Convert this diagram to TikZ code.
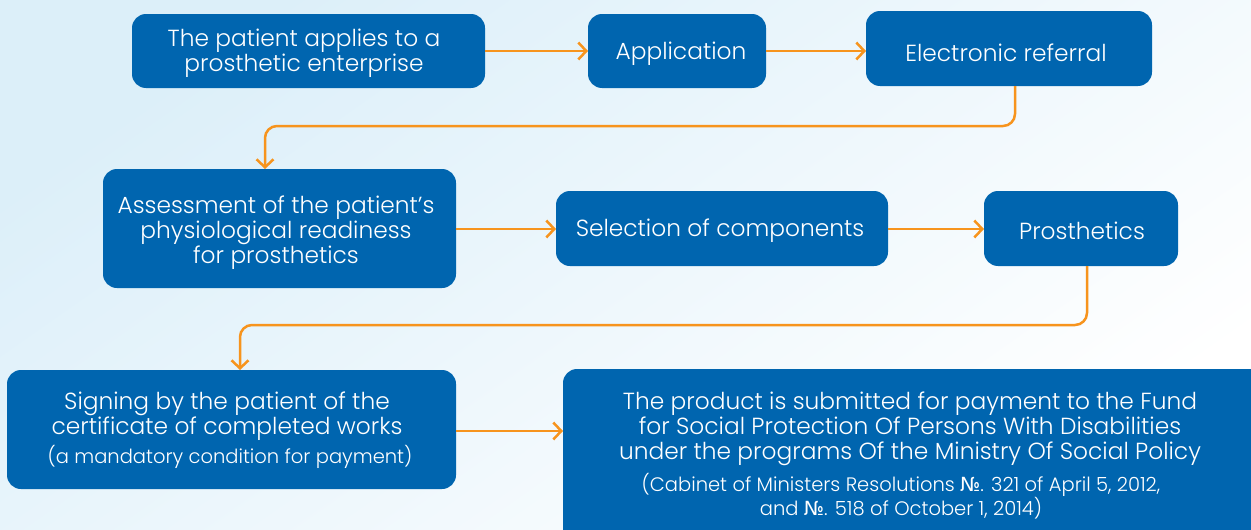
\documentclass[tikz,border=0pt]{standalone}
\usepackage{fontspec}
\setmainfont{Poppins Light}
\newfontfamily\numfont{DejaVu Sans}
\newcommand{\No}{{\numfont\char"2116}}
\usetikzlibrary{arrows.meta}
\definecolor{boxblue}{HTML}{0065AF}
\definecolor{arrorange}{HTML}{F7941D}
\definecolor{bgblue}{HTML}{DCEFF9}
\tikzset{
  stepbox/.style={draw=none, fill=boxblue, rounded corners=14pt},
  big/.style={text=white, align=center, font=\fontsize{23.3}{25}\selectfont},
  small/.style={text=white, align=center, font=\fontsize{19.5}{23}\selectfont},
  flow/.style={draw=arrorange, line width=2.5pt, rounded corners=12pt, -{Straight Barb[length=8pt,width=17pt,line width=2.5pt]}}
}
\begin{document}
\begin{tikzpicture}[x=1pt,y=-1pt]
\useasboundingbox (0,0) rectangle (1251,530);
\shade[shading=axis, top color=bgblue, bottom color=white, shading angle=35] (0,0) rectangle (1251,530);
\begin{scope}
\clip (0,0) rectangle (1251,530);
\path[stepbox] (132,14) rectangle (485,88);
\node[big] (n1) at (304,53.5) {The patient applies to a\\prosthetic enterprise};
\path[stepbox] (588,14) rectangle (766,88);
\node[big] (n2) at (681,54) {Application};
\path[stepbox] (866,11) rectangle (1152,86);
\node[big] (n3) at (1006,53) {Electronic referral};
\path[stepbox] (103,169) rectangle (456,288);
\node[big] (n4) at (276,232.5) {Assessment of the patient's\\physiological readiness\\for prosthetics};
\path[stepbox] (556,191) rectangle (888,266);
\node[big] (n5) at (720,230.5) {Selection of components};
\path[stepbox] (984,191) rectangle (1178,266);
\node[big] (n6) at (1082,230.5) {Prosthetics};
\path[stepbox] (7,370) rectangle (456,489);
\node[big] (n7) at (227,416.5) {Signing by the patient of the\\certificate of completed works};
\node[small] (n7b) at (230,457) {(a mandatory condition for payment)};
\path[stepbox] (563,369) rectangle (1265,545);
\node[big] (n8) at (910,428.5) {The product is submitted for payment to the Fund\\for Social Protection Of Persons With Disabilities\\under the programs Of the Ministry Of Social Policy};
\node[small] (n8b) at (901,496) {(Cabinet of Ministers Resolutions \No. 321 of April 5, 2012,\\and \No. 518 of October 1, 2014)};
\end{scope}
\coordinate (a1) at (485,51); \coordinate (a2in) at (588,51);
\coordinate (a2) at (766,51); \coordinate (a3in) at (866,51);
\coordinate (a3) at (1015,86); \coordinate (a4in) at (265,169);
\coordinate (a4) at (456,229); \coordinate (a5in) at (556,229);
\coordinate (a5) at (888,229); \coordinate (a6in) at (984,229);
\coordinate (a6) at (1087,266); \coordinate (a7in) at (240,370);
\coordinate (a7) at (456,431); \coordinate (a8in) at (563,431);
\draw[flow] (a1) -- (a2in);
\draw[flow] (a2) -- (a3in);
\draw[flow] (a3) |- (640,126) -| (a4in);
\draw[flow] (a4) -- (a5in);
\draw[flow] (a5) -- (a6in);
\draw[flow] (a6) |- (640,325) -| (a7in);
\draw[flow] (a7) -- (a8in);
\end{tikzpicture}
\end{document}
